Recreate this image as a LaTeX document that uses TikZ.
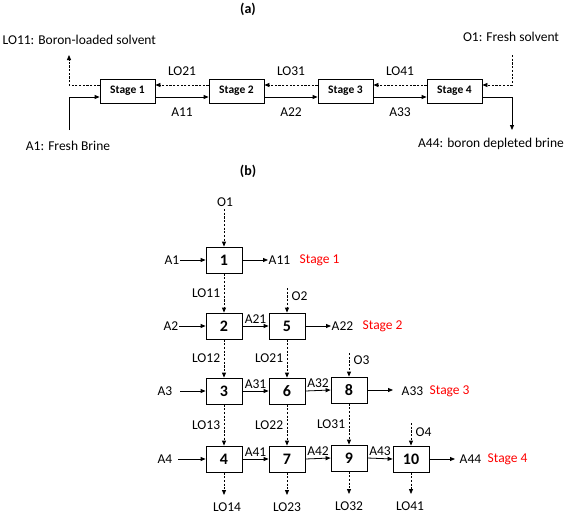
\documentclass[tikz,border=0pt]{standalone}
\usepackage{fontspec}
\setmainfont{Carlito}
\usetikzlibrary{arrows.meta,positioning}
\tikzset{
  txt/.style={inner sep=0.5pt, font=\fontsize{13.5}{15}\selectfont},
  stagebox/.style={draw, thick, minimum width=55pt, minimum height=24pt, inner sep=0pt, font=\fontsize{11.5}{13}\bfseries\selectfont},
  unitbox/.style={draw, thick, minimum width=36pt, minimum height=26pt, inner sep=0pt, font=\fontsize{16}{18}\bfseries\selectfont},
  stlab/.style={inner sep=0.5pt, text=red, font=\fontsize{13.5}{15}\selectfont},
  headlab/.style={inner sep=0pt, font=\fontsize{14}{16}\bfseries\selectfont},
  flow/.style={thick, -{Triangle[length=5pt,width=4pt]}},
  dflow/.style={thick, dash pattern=on 2.2pt off 1.5pt, -{Triangle[length=5pt,width=4pt]}},
}
\begin{document}
\begin{tikzpicture}[x=1pt,y=-1pt]
\useasboundingbox (0,0) rectangle (567,514);
% ---------------- (a) ----------------
\node[headlab] (ha) at (248,9) {(a)};
\node[stagebox] (s1) at (127.5,91) {Stage 1};
\node[stagebox] (s2) at (236.5,91) {Stage 2};
\node[stagebox] (s3) at (345.5,91) {Stage 3};
\node[stagebox] (s4) at (454.5,91) {Stage 4};
\coordinate (lo11end) at (69,55);
\coordinate (a1start) at (69,130);
\coordinate (o1start) at (512,55);
\coordinate (a44end) at (512,130);
\node[txt, anchor=west] (lo11t) at (2,40) {LO11: Boron-loaded solvent};
\node[txt] (a1t) at (68,146) {A1: Fresh Brine};
\node[txt] (o1t) at (511,37) {O1: Fresh solvent};
\node[txt] (a44t) at (491,144) {A44: boron depleted brine};
\draw[dflow] ([yshift=6pt]s1.west) -| (lo11end);
\draw[flow] (a1start) |- ([yshift=-6pt]s1.west);
\draw[dflow] (o1start) |- ([yshift=6pt]s4.east);
\draw[flow] ([yshift=-6pt]s4.east) -| (a44end);
\draw[dflow] ([yshift=6pt]s2.west) -- node[txt, above=9pt] (lo21a) {LO21} ([yshift=6pt]s1.east);
\draw[dflow] ([yshift=6pt]s3.west) -- node[txt, above=9pt] (lo31a) {LO31} ([yshift=6pt]s2.east);
\draw[dflow] ([yshift=6pt]s4.west) -- node[txt, above=9pt] (lo41a) {LO41} ([yshift=6pt]s3.east);
\draw[flow] ([yshift=-6pt]s1.east) -- node[txt, below=10pt] (a11a) {A11} ([yshift=-6pt]s2.west);
\draw[flow] ([yshift=-6pt]s2.east) -- node[txt, below=10pt] (a22a) {A22} ([yshift=-6pt]s3.west);
\draw[flow] ([yshift=-6pt]s3.east) -- node[txt, below=10pt] (a33a) {A33} ([yshift=-6pt]s4.west);
% ---------------- (b) ----------------
\node[headlab] (hb) at (248,171) {(b)};
\node[unitbox] (b1) at (224,260) {1};
\node[unitbox] (b2) at (224,326) {2};
\node[unitbox] (b5) at (287,326) {5};
\node[unitbox] (b3) at (224,391) {3};
\node[unitbox] (b6) at (287,391) {6};
\node[unitbox] (b8) at (349,390) {8};
\node[unitbox] (b4) at (224,459) {4};
\node[unitbox] (b7) at (287,459) {7};
\node[unitbox] (b9) at (349,458) {9};
\node[unitbox] (b10) at (411,459) {10};
% aqueous inputs
\node[txt, anchor=east] (a1b) at (180,260) {A1};
\node[txt, anchor=east] (a2b) at (179,326) {A2};
\node[txt, anchor=east] (a3b) at (173,391) {A3};
\node[txt, anchor=east] (a4b) at (173,459) {A4};
\draw[flow] (a1b.east) -- (b1.west);
\draw[flow] (a2b.east) -- (b2.west);
\draw[flow] ([xshift=7pt]a3b.east) -- (b3.west);
\draw[flow] ([xshift=5pt]a4b.east) -- (b4.west);
% outputs
\node[txt, anchor=west] (a11b) at (268,260) {A11};
\node[stlab, anchor=west] (st1) at (299,260) {Stage 1};
\node[txt, anchor=west] (a22b) at (331,326) {A22};
\node[stlab, anchor=west] (st2) at (362,326) {Stage 2};
\node[txt, anchor=west] (a33b) at (401,391) {A33};
\node[stlab, anchor=west] (st3) at (429,391) {Stage 3};
\node[txt, anchor=west] (a44b) at (459,459) {A44};
\node[stlab, anchor=west] (st4) at (487,459) {Stage 4};
\coordinate (a33end) at (393,390);
\coordinate (a44bend) at (455,459);
\draw[flow] (b1.east) -- (a11b.west);
\draw[flow] (b5.east) -- (a22b.west);
\draw[flow] (b8.east) -- (a33end);
\draw[flow] (b10.east) -- (a44bend);
% organic inputs
\node[txt] (o1b) at (225,202) {O1};
\coordinate (o1bs) at (224,209);
\draw[dflow] (o1bs) -- (b1.north);
\coordinate (o2s) at (287,288);
\node[txt, anchor=west] (o2b) at (291,296) {O2};
\draw[dflow] (o2s) -- (b5.north);
\coordinate (o3s) at (349,353);
\node[txt, anchor=west] (o3b) at (353,360) {O3};
\draw[dflow] (o3s) -- (b8.north);
\coordinate (o4s) at (411,423);
\node[txt, anchor=west] (o4b) at (415,432) {O4};
\draw[dflow] (o4s) -- (b10.north);
% vertical organic flows
\draw[dflow] (b1.south) -- node[txt, left=3pt] (lo11b) {LO11} (b2.north);
\draw[dflow] (b2.south) -- node[txt, left=3pt] (lo12b) {LO12} (b3.north);
\draw[dflow] (b5.south) -- node[txt, left=3pt] (lo21b) {LO21} (b6.north);
\draw[dflow] (b3.south) -- node[txt, left=3pt] (lo13b) {LO13} (b4.north);
\draw[dflow] (b6.south) -- node[txt, left=3pt] (lo22b) {LO22} (b7.north);
\draw[dflow] (b8.south) -- node[txt, left=3pt] (lo31b) {LO31} (b9.north);
% bottom outputs
\coordinate (e4) at (224,495);
\coordinate (e7) at (287,495);
\coordinate (e9) at (349,494);
\coordinate (e10) at (411,494);
\draw[dflow] (b4.south) -- (e4);
\draw[dflow] (b7.south) -- (e7);
\draw[dflow] (b9.south) -- (e9);
\draw[dflow] (b10.south) -- (e10);
\node[txt] (lo14) at (227,507) {LO14};
\node[txt] (lo23) at (287,507) {LO23};
\node[txt] (lo32) at (349,506) {LO32};
\node[txt] (lo41) at (410,506) {LO41};
% horizontal aqueous flows
\draw[flow] (b2.east) -- node[txt, above=2pt] (a21) {A21} (b5.west);
\draw[flow] (b3.east) -- node[txt, above=2pt] (a31) {A31} (b6.west);
\draw[flow] (b6.east) -- node[txt, above=2pt] (a32) {A32} (b8.west);
\draw[flow] (b4.east) -- node[txt, above=2pt] (a41) {A41} (b7.west);
\draw[flow] (b7.east) -- node[txt, above=2pt] (a42) {A42} (b9.west);
\draw[flow] (b9.east) -- node[txt, above=2pt] (a43) {A43} (b10.west);
\end{tikzpicture}
\end{document}
